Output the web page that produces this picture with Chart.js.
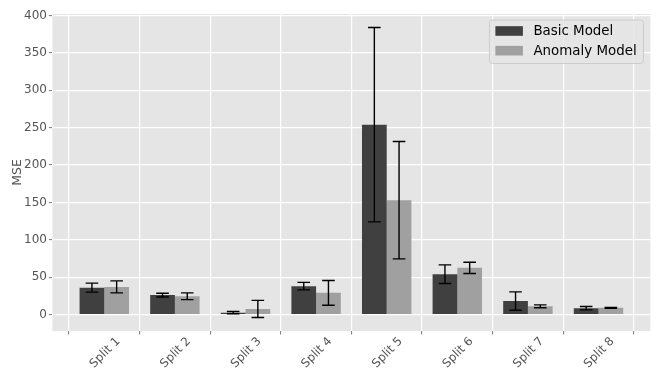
<!DOCTYPE html>
<html>
<head>
<meta charset="utf-8">
<script src="https://cdn.jsdelivr.net/npm/chart.js@4.4.1/dist/chart.umd.min.js"></script>
<style>
  html, body { margin: 0; padding: 0; background: #ffffff; }
  #wrap { width: 666px; height: 376px; }
</style>
</head>
<body>
<div id="wrap"><canvas id="c" width="666" height="376"></canvas></div>
<script>
const categories = ['Split 1', 'Split 2', 'Split 3', 'Split 4', 'Split 5', 'Split 6', 'Split 7', 'Split 8'];
const basicMean = [36, 26, 2.5, 38, 254, 54, 18, 8.5];
const basicErr = [6, 2.5, 1.5, 5, 130, 12.5, 12.3, 2.2];
const anomalyMean = [37, 24.5, 7.5, 29, 153, 62.5, 11, 9];
const anomalyErr = [8, 4.5, 11.5, 16.5, 78.5, 7.5, 2, 0.5];
const yTicks = [0, 50, 100, 150, 200, 250, 300, 350, 400];
const seriesNames = ['Basic Model', 'Anomaly Model'];

const FONT = 'DejaVu Sans';
const TXT = '#555555';

const errorBars = {
  id: 'errorBars',
  afterDatasetsDraw(chart) {
    const ctx = chart.ctx;
    const y = chart.scales.y;
    const errs = [basicErr, anomalyErr];
    const means = [basicMean, anomalyMean];
    ctx.save();
    ctx.strokeStyle = '#000000';
    ctx.lineWidth = 1.4;
    chart.data.datasets.forEach((ds, di) => {
      const meta = chart.getDatasetMeta(di);
      meta.data.forEach((bar, i) => {
        const m = means[di][i], e = errs[di][i];
        const x = bar.x;
        const yt = y.getPixelForValue(m + e);
        const yb = y.getPixelForValue(m - e);
        const cap = 6.3;
        ctx.beginPath();
        ctx.moveTo(x, yt); ctx.lineTo(x, yb);
        ctx.moveTo(x - cap, yt); ctx.lineTo(x + cap, yt);
        ctx.moveTo(x - cap, yb); ctx.lineTo(x + cap, yb);
        ctx.stroke();
      });
    });
    ctx.restore();
  }
};

const bgPlugin = {
  id: 'bgPlugin',
  beforeDraw(chart) {
    const a = chart.chartArea;
    const ctx = chart.ctx;
    ctx.save();
    ctx.fillStyle = '#e5e5e5';
    ctx.fillRect(a.left, a.top, a.right - a.left, a.bottom - a.top);
    ctx.restore();
  }
};

function roundRect(ctx, x, y, w, h, r) {
  ctx.beginPath();
  ctx.moveTo(x + r, y);
  ctx.lineTo(x + w - r, y);
  ctx.quadraticCurveTo(x + w, y, x + w, y + r);
  ctx.lineTo(x + w, y + h - r);
  ctx.quadraticCurveTo(x + w, y + h, x + w - r, y + h);
  ctx.lineTo(x + r, y + h);
  ctx.quadraticCurveTo(x, y + h, x, y + h - r);
  ctx.lineTo(x, y + r);
  ctx.quadraticCurveTo(x, y, x + r, y);
  ctx.closePath();
}

const legendPlugin = {
  id: 'customLegend',
  afterDraw(chart) {
    const ctx = chart.ctx;
    const a = chart.chartArea;
    const bx = a.right - 161, by = a.top + 6, bw = 154, bh = 43.5;
    ctx.save();
    roundRect(ctx, bx, by, bw, bh, 3);
    ctx.fillStyle = 'rgba(229,229,229,0.8)';
    ctx.fill();
    ctx.strokeStyle = '#cccccc';
    ctx.lineWidth = 1;
    ctx.stroke();
    const colors = chart.data.datasets.map(d => d.backgroundColor);
    ctx.font = '13.4px "' + FONT + '"';
    ctx.textBaseline = 'middle';
    ctx.textAlign = 'left';
    seriesNames.forEach((name, i) => {
      const cy = by + 11 + i * 19.7;
      ctx.fillStyle = colors[i];
      ctx.fillRect(bx + 6, cy - 4.8, 27.5, 9.6);
      ctx.fillStyle = '#000000';
      ctx.fillText(name, bx + 44, cy + 0.5);
    });
    ctx.restore();
  }
};

new Chart(document.getElementById('c'), {
  type: 'bar',
  data: {
    datasets: [
      {
        label: seriesNames[0],
        data: basicMean.map((v, i) => ({ x: i, y: v })),
        backgroundColor: '#404040',
        borderWidth: 0,
        categoryPercentage: 0.7,
        barPercentage: 1.0
      },
      {
        label: seriesNames[1],
        data: anomalyMean.map((v, i) => ({ x: i, y: v })),
        backgroundColor: '#a0a0a0',
        borderWidth: 0,
        categoryPercentage: 0.7,
        barPercentage: 1.0
      }
    ]
  },
  options: {
    responsive: false,
    animation: false,
    devicePixelRatio: 1,
    layout: { padding: { top: 14, right: 15.6, left: 0, bottom: 0 } },
    plugins: {
      legend: { display: false },
      tooltip: { enabled: false }
    },
    scales: {
      x: {
        type: 'linear',
        min: -0.735,
        max: 7.735,
        offset: false,
        afterBuildTicks(scale) {
          scale.ticks = categories.map((_, i) => ({ value: i }));
        },
        afterFit(scale) { scale.height = 45; },
        grid: {
          color: '#ffffff',
          lineWidth: 1.2,
          drawTicks: true,
          tickLength: 3.5,
          tickColor: '#555555',
          tickWidth: 0.8
        },
        border: { display: false },
        ticks: {
          autoSkip: false,
          maxRotation: 45,
          minRotation: 45,
          labelOffset: 14,
          padding: 0,
          color: TXT,
          font: { family: FONT, size: 11.8 },
          callback: (v) => categories[v]
        }
      },
      y: {
        min: -22,
        max: 402,
        afterBuildTicks(scale) {
          scale.ticks = yTicks.map(v => ({ value: v }));
        },
        afterFit(scale) { scale.width = 52.4; },
        grid: {
          color: '#ffffff',
          lineWidth: 1.2,
          drawTicks: true,
          tickLength: 3.5,
          tickColor: '#555555',
          tickWidth: 0.8
        },
        border: { display: false },
        ticks: {
          color: TXT,
          padding: 2,
          font: { family: FONT, size: 12 }
        },
        title: {
          display: true,
          text: 'MSE',
          color: TXT,
          padding: { top: 10, bottom: 0 },
          font: { family: FONT, size: 12.5 }
        }
      }
    }
  },
  plugins: [bgPlugin, errorBars, legendPlugin]
});
</script>
</body>
</html>
